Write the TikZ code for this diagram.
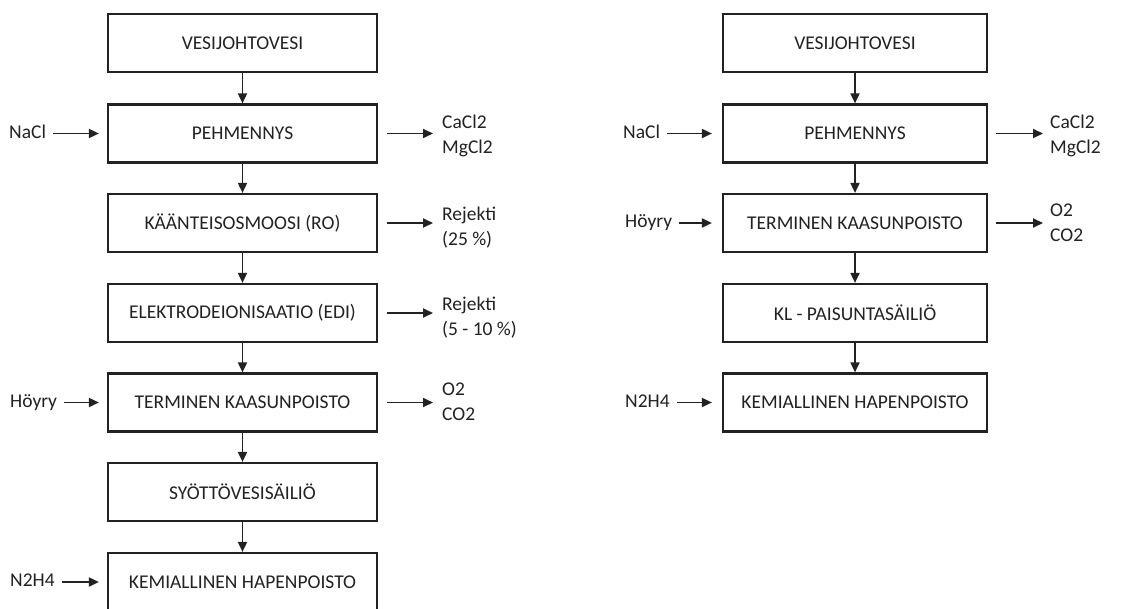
\documentclass[tikz,border=0pt]{standalone}
\usepackage{fontspec}
\setmainfont{Carlito}
\usetikzlibrary{arrows.meta}
\definecolor{ink}{HTML}{222222}
\begin{document}
\begin{tikzpicture}[x=1pt,y=-1pt,
  txt/.style={text=ink, font=\fontsize{19.5}{25}\selectfont},
  box/.style={txt, draw=ink, line width=2.2pt, minimum height=58pt, inner sep=0pt},
  lbox/.style={box, minimum width=269pt},
  rbox/.style={box, minimum width=264pt},
  lab/.style={txt, inner sep=0pt, text height=13pt, text depth=4pt},
  lab2/.style={txt, inner sep=0pt, align=left},
  flow/.style={draw=ink, line width=1.8pt, -{Triangle[length=10pt,width=9pt]}},
]
\useasboundingbox (0,0) rectangle (1147,608);
\clip (0,0) rectangle (1147,608);
\fill[white] (0,0) rectangle (1147,608);

% left column
\node[lbox] (a1) at (242.5,43) {VESIJOHTOVESI};
\node[lbox] (a2) at (242.5,133.5) {PEHMENNYS};
\node[lbox] (a3) at (242.5,223) {KÄÄNTEISOSMOOSI (RO)};
\node[lbox] (a4) at (242.5,313) {ELEKTRODEIONISAATIO (EDI)};
\node[lbox] (a5) at (242.5,402.5) {TERMINEN KAASUNPOISTO};
\node[lbox] (a6) at (242.5,492) {SYÖTTÖVESISÄILIÖ};
\node[lbox] (a7) at (242.5,582) {KEMIALLINEN HAPENPOISTO};

\draw[flow] (a1) -- (a2);
\draw[flow] (a2) -- (a3);
\draw[flow] (a3) -- (a4);
\draw[flow] (a4) -- (a5);
\draw[flow] (a5) -- (a6);
\draw[flow] (a6) -- (a7);

\node[lab, anchor=west] (ina2) at (9,133.5) {NaCl};
\node[lab, anchor=west] (ina5) at (10,402.5) {Höyry};
\node[lab, anchor=west] (ina7) at (10,582) {N2H4};
\draw[flow, shorten <=7pt, shorten >=8pt] (ina2.east) -- (a2.west);
\draw[flow, shorten <=7pt, shorten >=8pt] (ina5.east) -- (a5.west);
\draw[flow, shorten <=7pt, shorten >=8pt] (ina7.east) -- (a7.west);

\node[lab2, anchor=west] (outa2) at (442,135.5) {CaCl2\\MgCl2};
\node[lab2, anchor=west] (outa3) at (442,228) {Rejekti\\(25 \%)};
\node[lab2, anchor=west] (outa4) at (442,318) {Rejekti\\(5 - 10 \%)};
\node[lab2, anchor=west] (outa5) at (442,402) {O2\\CO2};
\draw[flow, shorten <=9pt, shorten >=9pt] (a2.east) -- (a2.east -| outa2.west);
\draw[flow, shorten <=9pt, shorten >=9pt] (a3.east) -- (a3.east -| outa3.west);
\draw[flow, shorten <=9pt, shorten >=9pt] (a4.east) -- (a4.east -| outa4.west);
\draw[flow, shorten <=9pt, shorten >=9pt] (a5.east) -- (a5.east -| outa5.west);

% right column
\node[rbox] (b1) at (855,43) {VESIJOHTOVESI};
\node[rbox] (b2) at (855,133.5) {PEHMENNYS};
\node[rbox] (b3) at (855,223) {TERMINEN KAASUNPOISTO};
\node[rbox] (b4) at (855,313) {KL - PAISUNTASÄILIÖ};
\node[rbox] (b5) at (855,402.5) {KEMIALLINEN HAPENPOISTO};

\draw[flow] (b1) -- (b2);
\draw[flow] (b2) -- (b3);
\draw[flow] (b3) -- (b4);
\draw[flow] (b4) -- (b5);

\node[lab, anchor=west] (inb2) at (623,133.5) {NaCl};
\node[lab, anchor=west] (inb3) at (625,223) {Höyry};
\node[lab, anchor=west] (inb5) at (625,402.5) {N2H4};
\draw[flow, shorten <=7pt, shorten >=10pt] (inb2.east) -- (b2.west);
\draw[flow, shorten <=7pt, shorten >=10pt] (inb3.east) -- (b3.west);
\draw[flow, shorten <=7pt, shorten >=10pt] (inb5.east) -- (b5.west);

\node[lab2, anchor=west] (outb2) at (1050,135.5) {CaCl2\\MgCl2};
\node[lab2, anchor=west] (outb3) at (1050,223) {O2\\CO2};
\draw[flow, shorten <=8pt, shorten >=7pt] (b2.east) -- (b2.east -| outb2.west);
\draw[flow, shorten <=8pt, shorten >=7pt] (b3.east) -- (b3.east -| outb3.west);
\end{tikzpicture}
\end{document}
